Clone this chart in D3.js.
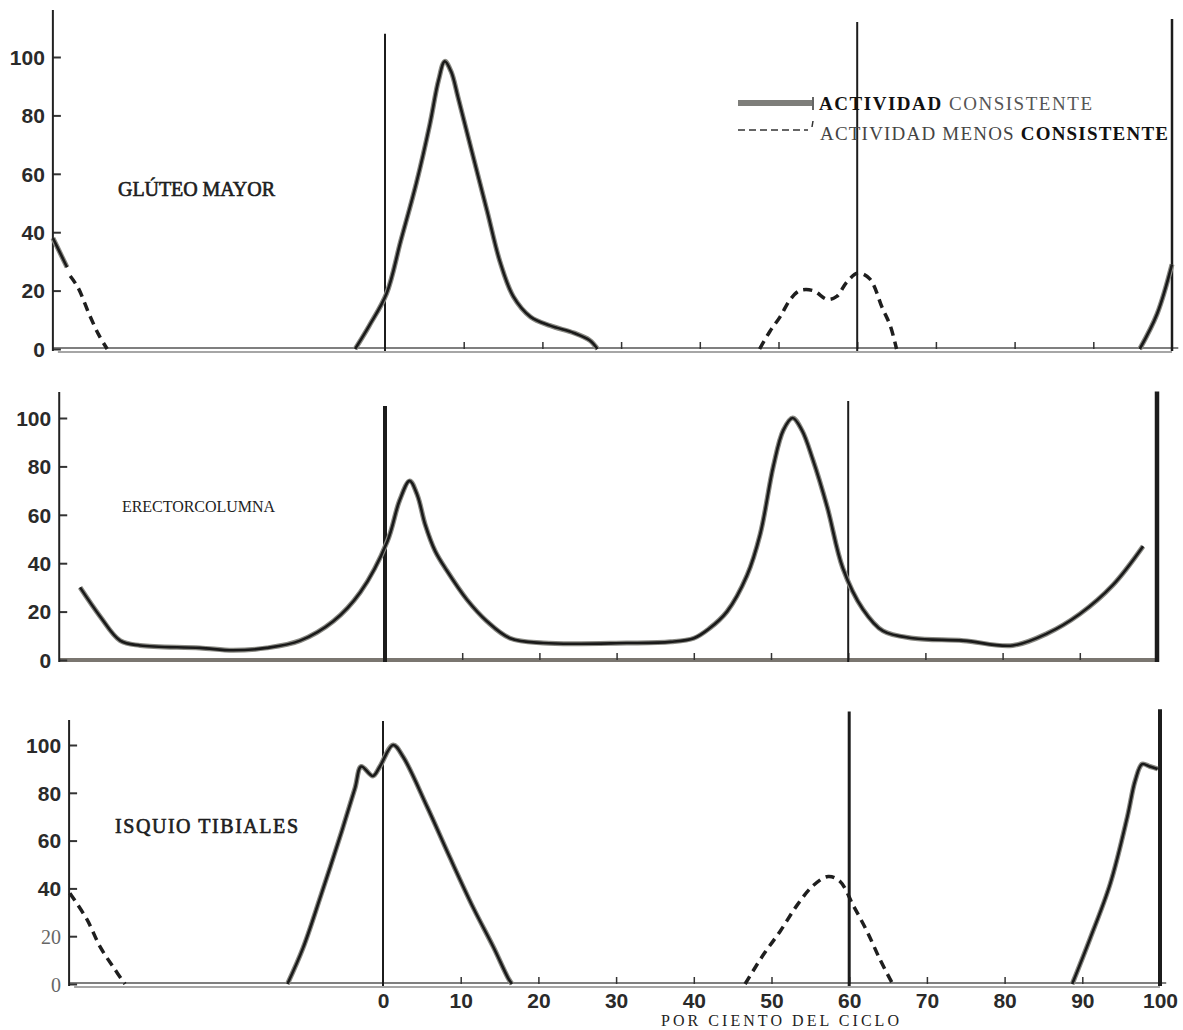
<!DOCTYPE html>
<html>
    <head>
        <meta charset="utf-8">
        <title>Actividad muscular por ciento del ciclo</title>
        <script type="text/javascript" src="https://cdn.jsdelivr.net/npm/d3@7"></script>
        <style>
            body { margin: 0; background: #fff; }
            .type { font-family: "Liberation Serif", "DejaVu Serif", serif; fill: #222; }
            .num { font-family: "Liberation Sans", Arial, sans-serif; font-weight: bold; fill: #2a2a2a; }
        </style>
    </head>
    <body>
        <svg id="svg"></svg>

        <script>

            var WIDTH = 1183;
            var HEIGHT = 1030;

            // x = por ciento del ciclo (negativo = final del ciclo anterior), y = actividad %
            var X_TICKS = [0, 10, 20, 30, 40, 50, 60, 70, 80, 90, 100];
            var Y_TICKS = [0, 20, 40, 60, 80, 100];
            var PHASE_LINES = [0, 60, 100];
            var MUSCLES = ["GLÚTEO MAYOR", "ERECTORCOLUMNA", "ISQUIO TIBIALES"];
            var LEGEND = ["CONSISTENTE", "MENOS CONSISTENTE"];
            var X_TITLE = "POR CIENTO DEL CICLO";

            // gluteo mayor
            var gluteoSolid1 = [[-42.2, 38], [-41.3, 33], [-40.4, 28]];
            var gluteoDash1 = [[-40, 25], [-39, 21], [-37.6, 12], [-36.4, 5], [-35.3, 0]];
            var gluteoSolid2 = [[-3.8, 0], [-2, 8], [0.2, 19], [2, 37], [4, 57], [5.7, 77], [6.8, 92],
                                [7.6, 98.5], [8.4, 95], [9.3, 86], [11, 68], [13, 47], [14.6, 30],
                                [16.3, 18], [18.5, 11], [21, 8], [24, 5.5], [26, 3], [27, 0]];
            var gluteoDash2 = [[47.6, 0], [48.9, 6], [50.2, 11], [51.5, 17], [52.7, 20], [54.4, 20],
                               [56.2, 17], [57.4, 18], [58.7, 23], [60.1, 26], [61.6, 24], [63.2, 14],
                               [64.2, 8], [65, 0]];
            var gluteoSolid3 = [[95.9, 0], [98.1, 12], [100, 29]];

            // erector columna
            var erectorSolid = [[-39.5, 30], [-36.9, 18], [-34.3, 8], [-31.7, 6], [-24, 5], [-19.7, 4],
                                [-15.3, 5], [-11, 8], [-6.7, 16], [-3.2, 28], [0.3, 49], [1.9, 66],
                                [3.2, 74], [4.2, 68], [5.2, 56], [6.5, 45], [8, 37], [10.6, 25],
                                [13.2, 16], [16.2, 9], [20.5, 7], [31.3, 7], [37, 7.5], [40, 9],
                                [42, 13], [44.3, 20], [46.9, 35], [48.6, 52], [50.3, 80], [51.6, 95],
                                [52.8, 100], [54, 95], [55.4, 83], [57.3, 63], [59.3, 38], [61.9, 21],
                                [64.5, 12], [68.4, 9], [74.9, 8], [81.3, 6], [85.8, 11], [90, 19],
                                [94.3, 31], [98.2, 47]];

            // isquio tibiales
            var isquioDash1 = [[-40.3, 38], [-38.1, 27], [-36.4, 15.5], [-34.7, 7], [-33.2, 0]];
            var isquioSolid2 = [[-12.3, 0], [-10.3, 15], [-8, 37], [-5.3, 64], [-3.6, 82], [-2.8, 91],
                                [-1.3, 87], [-0.4, 91], [1.3, 100], [2.6, 95], [5.7, 74], [8.6, 53],
                                [11.6, 32], [14.2, 15.5], [16.1, 2.5], [16.6, 0]];
            var isquioDash2 = [[46.6, 0], [48.9, 12], [51.1, 22], [53.3, 33], [55.3, 41], [57.3, 45],
                               [58.8, 43], [60.5, 33], [62.3, 22], [64, 10], [65.6, 0]];
            var isquioSolid3 = [[88.7, 0], [91, 19], [93.6, 42], [95.8, 70], [96.8, 85], [97.7, 92],
                                [98.7, 91], [99.7, 90]];

            // layout of the three panels (pixels)
            var panels = [
                {name: MUSCLES[0], xr: [385, 1172], yr: [349, 57], xStart: -42.2, top: 10,
                 label: [118, 196, 157], heavy: true, lineW: [2, 2, 2.5], lineTop: [108, 112, 113],
                 solid: [gluteoSolid1, gluteoSolid2, gluteoSolid3], dash: [gluteoDash1, gluteoDash2]},
                {name: MUSCLES[1], xr: [385, 1157], yr: [660, 418], xStart: -42.2, top: 392,
                 label: [122, 512, 153], heavy: false, lineW: [4, 2, 4.5], lineTop: [105, 107, 111],
                 solid: [erectorSolid], dash: []},
                {name: MUSCLES[2], xr: [383, 1160], yr: [984, 745], xStart: -40.4, top: 720,
                 label: [115, 833, 183], heavy: true, lineW: [2, 3, 4], lineTop: [110, 114, 115],
                 solid: [isquioSolid2, isquioSolid3], dash: [isquioDash1, isquioDash2]}
            ];

            var svg = d3.select('#svg')
                        .attr('width', WIDTH)
                        .attr('height', HEIGHT);

            panels.forEach(function(p, pi){
                var x = d3.scaleLinear().domain([0, 100]).range(p.xr);
                var y = d3.scaleLinear().domain([0, 100]).range(p.yr);
                var g = svg.append('g');
                var line = d3.line()
                             .x(function(d){ return x(d[0]); })
                             .y(function(d){ return y(d[1]); })
                             .curve(d3.curveCatmullRom.alpha(0.5));

                // baseline
                if(pi == 1){
                    g.append('line')
                     .attr('x1', x(p.xStart)).attr('x2', x(100))
                     .attr('y1', y(0)).attr('y2', y(0))
                     .attr('stroke', '#7a7670').attr('stroke-width', 4);
                } else {
                    g.append('line')
                     .attr('x1', x(p.xStart)).attr('x2', x(100.8))
                     .attr('y1', y(0) - 1).attr('y2', y(0) - 1)
                     .attr('stroke', '#555').attr('stroke-width', 1.3);
                    g.append('line')
                     .attr('x1', x(p.xStart) + 5).attr('x2', x(100))
                     .attr('y1', y(0) + 3).attr('y2', y(0) + 3)
                     .attr('stroke', '#888').attr('stroke-width', 1.5);
                }

                // x ticks on baseline
                var xAxis = d3.axisBottom(x)
                              .tickValues(X_TICKS.slice(1, 10))
                              .tickSize(-7)
                              .tickFormat("");
                var xa = g.append('g')
                          .attr('transform', 'translate(0,' + y(0) + ')')
                          .call(xAxis);
                xa.select('.domain').remove();
                xa.selectAll('.tick line').attr('stroke', '#333').attr('stroke-width', 1.5);

                if(pi == 2){
                    var xb = g.append('g')
                              .attr('transform', 'translate(0,' + y(0) + ')')
                              .call(d3.axisBottom(x).tickValues(X_TICKS).tickSize(0).tickPadding(9));
                    xb.select('.domain').remove();
                    xb.selectAll('.tick text')
                      .attr('class', 'num')
                      .attr('font-size', 21)
                      .attr('fill', '#222');
                }

                // y axis
                var yAxis = d3.axisLeft(y)
                              .tickValues(Y_TICKS)
                              .tickSize(-8)
                              .tickPadding(8);
                var ya = g.append('g')
                          .attr('transform', 'translate(' + x(p.xStart) + ',0)')
                          .call(yAxis);
                ya.select('.domain').remove();
                ya.selectAll('.tick line').attr('stroke', '#333').attr('stroke-width', 2);
                ya.selectAll('.tick text')
                  .attr('class', 'num')
                  .attr('font-size', 21)
                  .attr('dy', '0.35em');
                if(pi == 2){
                    ya.selectAll('.tick text')
                      .filter(function(d){ return d <= 20; })
                      .attr('class', null)
                      .attr('font-family', '"Liberation Serif", serif')
                      .attr('font-weight', 'normal')
                      .attr('fill', '#666')
                      .attr('font-size', 20);
                }
                g.append('line')
                 .attr('x1', x(p.xStart)).attr('x2', x(p.xStart))
                 .attr('y1', p.top).attr('y2', y(0) + 2)
                 .attr('stroke', '#222').attr('stroke-width', 2);

                // phase lines
                g.selectAll('line.phase')
                 .data(PHASE_LINES)
                 .enter()
                 .append('line')
                 .attr('class', 'phase')
                 .attr('x1', function(d){ return x(d); })
                 .attr('x2', function(d){ return x(d); })
                 .attr('y1', function(d, i){ return y(p.lineTop[i]); })
                 .attr('y2', y(0) + 2)
                 .attr('stroke', '#1c1c1c')
                 .attr('stroke-width', function(d, i){ return p.lineW[i]; });

                // less consistent activity
                g.selectAll('path.dash')
                 .data(p.dash)
                 .enter()
                 .append('path')
                 .attr('class', 'dash')
                 .attr('d', line)
                 .attr('fill', 'none')
                 .attr('stroke', '#1e1e1e')
                 .attr('stroke-width', 3.5)
                 .attr('stroke-dasharray', '9,6');

                // consistent activity
                g.selectAll('path.halo')
                 .data(p.solid)
                 .enter()
                 .append('path')
                 .attr('class', 'halo')
                 .attr('d', line)
                 .attr('fill', 'none')
                 .attr('stroke', '#8a8a84')
                 .attr('stroke-width', 5);
                g.selectAll('path.solid')
                 .data(p.solid)
                 .enter()
                 .append('path')
                 .attr('class', 'solid')
                 .attr('d', line)
                 .attr('fill', 'none')
                 .attr('stroke', '#1a1a1a')
                 .attr('stroke-width', 2.6);

                // muscle name
                g.append('text')
                 .attr('class', 'type')
                 .attr('x', p.label[0])
                 .attr('y', p.label[1])
                 .attr('font-size', p.heavy ? 20 : 16)
                 .attr('fill', p.heavy ? '#1a1a1a' : '#444')
                 .attr('stroke', p.heavy ? '#1a1a1a' : 'none')
                 .attr('stroke-width', 0.6)
                 .attr('textLength', p.label[2])
                 .attr('lengthAdjust', 'spacing')
                 .text(p.name);
            });

            // legend
            var lg = svg.append('g');
            lg.append('line')
              .attr('x1', 738).attr('x2', 812).attr('y1', 103).attr('y2', 103)
              .attr('stroke', '#7e7e7a').attr('stroke-width', 6);
            lg.append('line')
              .attr('x1', 813).attr('x2', 813).attr('y1', 97).attr('y2', 110)
              .attr('stroke', '#333').attr('stroke-width', 1.5);
            lg.append('line')
              .attr('x1', 738).attr('x2', 808).attr('y1', 130).attr('y2', 130)
              .attr('stroke', '#333').attr('stroke-width', 1.5)
              .attr('stroke-dasharray', '7,4');
            lg.append('line')
              .attr('x1', 813).attr('x2', 812).attr('y1', 121).attr('y2', 127)
              .attr('stroke', '#333').attr('stroke-width', 1.5);

            var t1 = lg.append('text').attr('class', 'type')
                       .attr('x', 819).attr('y', 110).attr('font-size', 19)
                       .attr('textLength', 273).attr('lengthAdjust', 'spacing');
            t1.append('tspan').attr('font-weight', 'bold').attr('fill', '#111').text('ACTIVIDAD ');
            t1.append('tspan').attr('fill', '#555').text(LEGEND[0]);

            var t2 = lg.append('text').attr('class', 'type')
                       .attr('x', 820).attr('y', 140).attr('font-size', 19)
                       .attr('textLength', 348).attr('lengthAdjust', 'spacing');
            t2.append('tspan').attr('fill', '#444').text('ACTIVIDAD MENOS ');
            t2.append('tspan').attr('font-weight', 'bold').attr('fill', '#111').text(LEGEND[1].split(' ')[1]);

            // x title
            svg.append('text')
               .attr('class', 'type')
               .attr('x', 661)
               .attr('y', 1026)
               .attr('font-size', 16)
               .attr('fill', '#333')
               .attr('textLength', 238)
               .attr('lengthAdjust', 'spacing')
               .text(X_TITLE);

        </script>
    </body>
</html>
